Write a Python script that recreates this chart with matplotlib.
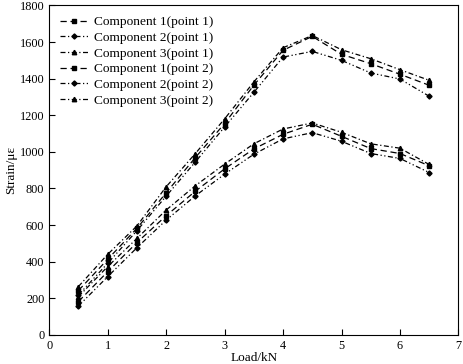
import numpy as np
import matplotlib
matplotlib.use("Agg")
import matplotlib.pyplot as plt

plt.rcParams["font.family"] = ["Liberation Serif", "DejaVu Serif"]

# load steps (kN)
load = [0.5, 1.0, 1.5, 2.0, 2.5, 3.0, 3.5, 4.0, 4.5, 5.0, 5.5, 6.0, 6.5]

# strain readings (micro-strain)
comp1_p1 = [242, 413, 582, 776, 969, 1155, 1364, 1555, 1631, 1533, 1482, 1424, 1364]
comp2_p1 = [218, 391, 569, 758, 945, 1136, 1325, 1518, 1549, 1500, 1431, 1398, 1304]
comp3_p1 = [264, 440, 595, 809, 991, 1180, 1382, 1569, 1636, 1558, 1509, 1449, 1391]
comp1_p2 = [182, 345, 504, 651, 785, 907, 1016, 1096, 1151, 1085, 1018, 991, 924]
comp2_p2 = [158, 318, 476, 627, 760, 878, 987, 1071, 1105, 1058, 991, 964, 887]
comp3_p2 = [209, 373, 527, 682, 815, 933, 1044, 1125, 1158, 1107, 1044, 1020, 931]

labels = ["Component 1(point 1)", "Component 2(point 1)", "Component 3(point 1)",
          "Component 1(point 2)", "Component 2(point 2)", "Component 3(point 2)"]
series = [comp1_p1, comp2_p1, comp3_p1, comp1_p2, comp2_p2, comp3_p2]

styles = [
    ((0, (5, 3)), "s"),             # dashed, square
    ((0, (4, 2, 1, 2, 1, 2)), "D"), # dash-dot-dot, diamond
    ((0, (4, 2, 1, 2)), "^"),       # dash-dot, triangle
]

fig = plt.figure(figsize=(4.64, 3.64), dpi=100)
ax = fig.add_axes([0.106, 0.080, 0.882, 0.905])

for i, (vals, lab) in enumerate(zip(series, labels)):
    ls, mk = styles[i % 3]
    ax.plot(load, vals, linestyle=ls, marker=mk, color="black", linewidth=0.9,
            markersize=3.2 if mk != "D" else 2.6, label=lab)

ax.set_xlim(0, 7)
ax.set_ylim(0, 1800)
ax.set_xticks(range(0, 8))
ax.set_yticks(range(0, 1801, 200))
ax.tick_params(direction="in", length=4, labelsize=8.8, top=False, right=False)
ax.set_xlabel("Load/kN", fontsize=9.5, labelpad=0)
ax.set_ylabel("Strain/με", fontsize=9.5, labelpad=2)

ax.legend(loc="upper left", frameon=False, fontsize=9.6, handlelength=2.1,
          labelspacing=0.25, borderaxespad=0.4, handletextpad=0.45)

fig.savefig("out.png", dpi=100)
